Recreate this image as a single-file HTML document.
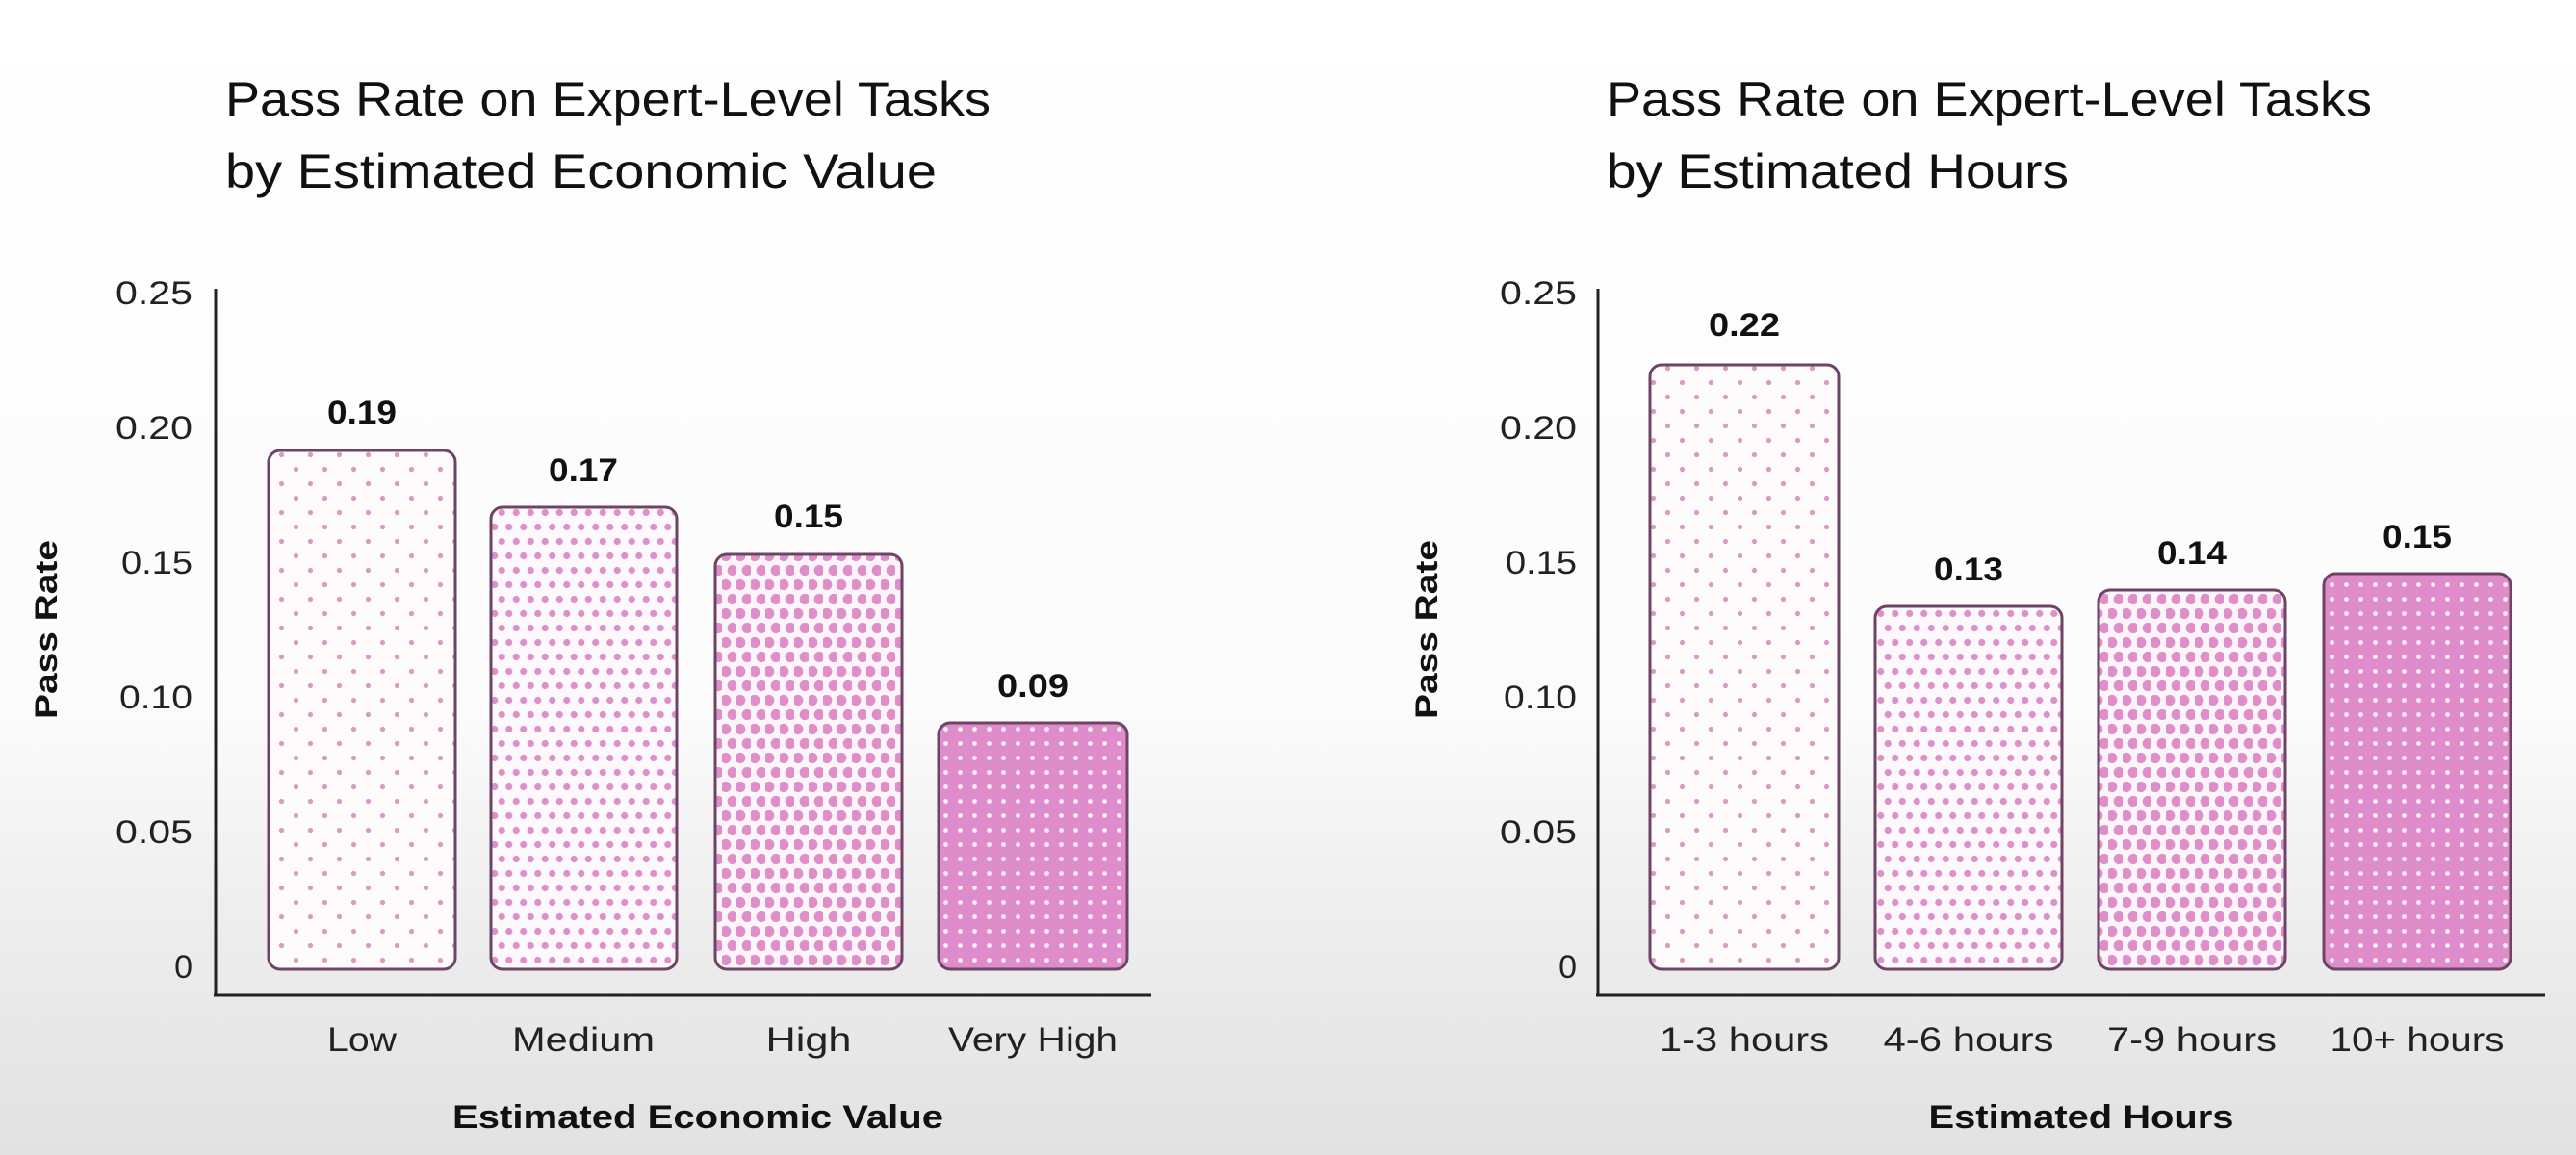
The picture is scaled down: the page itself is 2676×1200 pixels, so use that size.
<!DOCTYPE html>
<html><head><meta charset="utf-8"><style>
html,body{margin:0;padding:0;}
body{width:2676px;height:1200px;overflow:hidden;}
svg{display:block;font-family:"Liberation Sans",sans-serif;}
</style></head><body>
<svg width="2676" height="1200" viewBox="0 0 2676 1200" xmlns="http://www.w3.org/2000/svg">
<defs>
<linearGradient id="bg" x1="0" y1="0" x2="0" y2="1">
<stop offset="0" stop-color="#ffffff"/>
<stop offset="0.62" stop-color="#fbfbfb"/>
<stop offset="0.8" stop-color="#ededed"/>
<stop offset="1" stop-color="#e2e2e2"/>
</linearGradient>
<pattern id="p1" width="30" height="30" patternUnits="userSpaceOnUse">
<rect width="30" height="30" fill="#fdfbfc"/>
<circle cx="7.5" cy="7.5" r="2.6" fill="#d99ac6"/>
<circle cx="22.5" cy="22.5" r="2.6" fill="#d99ac6"/>
</pattern>
<pattern id="p2" width="15" height="30" patternUnits="userSpaceOnUse">
<rect width="15" height="30" fill="#fcf8fb"/>
<circle cx="3.75" cy="7.5" r="3.6" fill="#dc92c9"/>
<circle cx="11.25" cy="22.5" r="3.6" fill="#dc92c9"/>
</pattern>
<pattern id="p3" width="15" height="30" patternUnits="userSpaceOnUse">
<rect width="15" height="30" fill="#fbf4f9"/>
<circle cx="3.75" cy="7.5" r="5.6" fill="#de8fca"/>
<circle cx="11.25" cy="22.5" r="5.6" fill="#de8fca"/>
</pattern>
<pattern id="p4" width="15" height="15" patternUnits="userSpaceOnUse">
<rect width="15" height="15" fill="#df8cca"/>
<circle cx="7.5" cy="7.5" r="2.4" fill="#fbeef7"/>
</pattern>
</defs>
<rect width="2676" height="1200" fill="url(#bg)"/>

<!-- LEFT CHART -->
<text x="234" y="120" font-size="50" fill="#111" textLength="795" lengthAdjust="spacingAndGlyphs">Pass Rate on Expert-Level Tasks</text>
<text x="234" y="195" font-size="50" fill="#111" textLength="739" lengthAdjust="spacingAndGlyphs">by Estimated Economic Value</text>

<g font-size="34" fill="#222" text-anchor="end">
<text x="200" y="316" textLength="80" lengthAdjust="spacingAndGlyphs">0.25</text>
<text x="200" y="456" textLength="80" lengthAdjust="spacingAndGlyphs">0.20</text>
<text x="200" y="596" textLength="74" lengthAdjust="spacingAndGlyphs">0.15</text>
<text x="200" y="736" textLength="76" lengthAdjust="spacingAndGlyphs">0.10</text>
<text x="200" y="876" textLength="80" lengthAdjust="spacingAndGlyphs">0.05</text>
<text x="200" y="1016">0</text>
</g>
<text transform="translate(59,654) rotate(-90)" font-size="32" font-weight="bold" fill="#111" text-anchor="middle" textLength="186" lengthAdjust="spacingAndGlyphs">Pass Rate</text>
<line x1="224" y1="300" x2="224" y2="1035" stroke="#222" stroke-width="3"/>
<line x1="222" y1="1034" x2="1196" y2="1034" stroke="#222" stroke-width="3"/>

<rect x="279" y="468" width="194" height="539" rx="12" fill="url(#p1)" stroke="#6e4466" stroke-width="3"/>
<rect x="510" y="527" width="193" height="480" rx="12" fill="url(#p2)" stroke="#6e4466" stroke-width="3"/>
<rect x="743" y="576" width="194" height="431" rx="12" fill="url(#p3)" stroke="#6e4466" stroke-width="3"/>
<rect x="975" y="751" width="196" height="256" rx="12" fill="url(#p4)" stroke="#6e4466" stroke-width="3"/>

<g font-size="34" font-weight="bold" fill="#111" text-anchor="middle">
<text x="376" y="440" textLength="72" lengthAdjust="spacingAndGlyphs">0.19</text>
<text x="606" y="500" textLength="72" lengthAdjust="spacingAndGlyphs">0.17</text>
<text x="840" y="548" textLength="72" lengthAdjust="spacingAndGlyphs">0.15</text>
<text x="1073" y="724" textLength="74" lengthAdjust="spacingAndGlyphs">0.09</text>
</g>
<g font-size="35" fill="#222" text-anchor="middle">
<text x="376" y="1092" textLength="72" lengthAdjust="spacingAndGlyphs">Low</text>
<text x="606" y="1092" textLength="148" lengthAdjust="spacingAndGlyphs">Medium</text>
<text x="840" y="1092" textLength="89" lengthAdjust="spacingAndGlyphs">High</text>
<text x="1073" y="1092" textLength="176" lengthAdjust="spacingAndGlyphs">Very High</text>
</g>
<text x="725" y="1172" font-size="34" font-weight="bold" fill="#111" text-anchor="middle" textLength="510" lengthAdjust="spacingAndGlyphs">Estimated Economic Value</text>

<!-- RIGHT CHART -->
<text x="1669" y="120" font-size="50" fill="#111" textLength="795" lengthAdjust="spacingAndGlyphs">Pass Rate on Expert-Level Tasks</text>
<text x="1669" y="195" font-size="50" fill="#111" textLength="480" lengthAdjust="spacingAndGlyphs">by Estimated Hours</text>

<g font-size="34" fill="#222" text-anchor="end">
<text x="1638" y="316" textLength="80" lengthAdjust="spacingAndGlyphs">0.25</text>
<text x="1638" y="456" textLength="80" lengthAdjust="spacingAndGlyphs">0.20</text>
<text x="1638" y="596" textLength="74" lengthAdjust="spacingAndGlyphs">0.15</text>
<text x="1638" y="736" textLength="76" lengthAdjust="spacingAndGlyphs">0.10</text>
<text x="1638" y="876" textLength="80" lengthAdjust="spacingAndGlyphs">0.05</text>
<text x="1638" y="1016">0</text>
</g>
<text transform="translate(1493,654) rotate(-90)" font-size="32" font-weight="bold" fill="#111" text-anchor="middle" textLength="186" lengthAdjust="spacingAndGlyphs">Pass Rate</text>
<line x1="1660" y1="300" x2="1660" y2="1035" stroke="#222" stroke-width="3"/>
<line x1="1658" y1="1034" x2="2644" y2="1034" stroke="#222" stroke-width="3"/>

<rect x="1714" y="379" width="196" height="628" rx="12" fill="url(#p1)" stroke="#6e4466" stroke-width="3"/>
<rect x="1948" y="630" width="194" height="377" rx="12" fill="url(#p2)" stroke="#6e4466" stroke-width="3"/>
<rect x="2180" y="613" width="194" height="394" rx="12" fill="url(#p3)" stroke="#6e4466" stroke-width="3"/>
<rect x="2414" y="596" width="194" height="411" rx="12" fill="url(#p4)" stroke="#6e4466" stroke-width="3"/>

<g font-size="34" font-weight="bold" fill="#111" text-anchor="middle">
<text x="1812" y="349" textLength="74" lengthAdjust="spacingAndGlyphs">0.22</text>
<text x="2045" y="603" textLength="72" lengthAdjust="spacingAndGlyphs">0.13</text>
<text x="2277" y="586" textLength="72" lengthAdjust="spacingAndGlyphs">0.14</text>
<text x="2511" y="569" textLength="72" lengthAdjust="spacingAndGlyphs">0.15</text>
</g>
<g font-size="35" fill="#222" text-anchor="middle">
<text x="1812" y="1092" textLength="176" lengthAdjust="spacingAndGlyphs">1-3 hours</text>
<text x="2045" y="1092" textLength="177" lengthAdjust="spacingAndGlyphs">4-6 hours</text>
<text x="2277" y="1092" textLength="176" lengthAdjust="spacingAndGlyphs">7-9 hours</text>
<text x="2511" y="1092" textLength="181" lengthAdjust="spacingAndGlyphs">10+ hours</text>
</g>
<text x="2162" y="1172" font-size="34" font-weight="bold" fill="#111" text-anchor="middle" textLength="317" lengthAdjust="spacingAndGlyphs">Estimated Hours</text>
</svg>
</body></html>
